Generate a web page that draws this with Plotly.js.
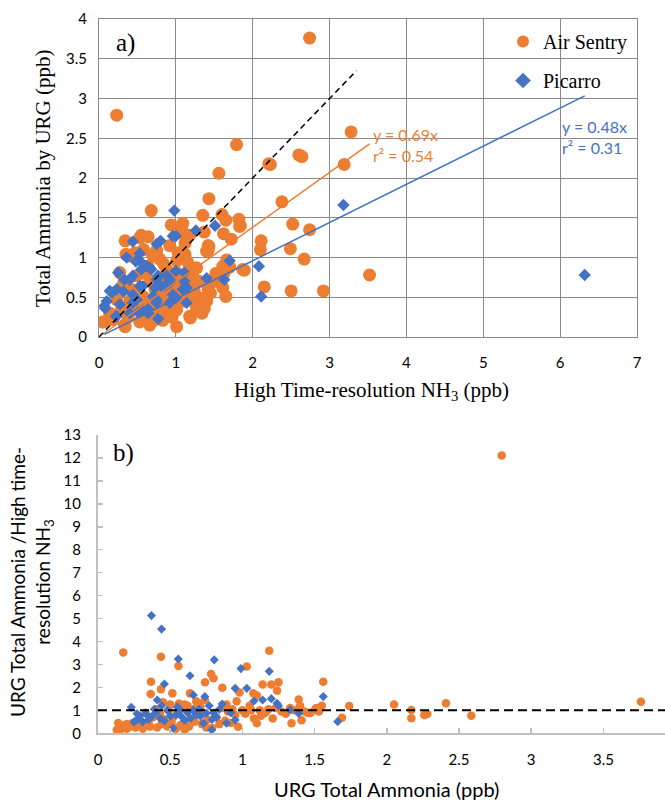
<!DOCTYPE html>
<html>
<head>
<meta charset="utf-8">
<script src="https://cdn.plot.ly/plotly-3.0.1.min.js"></script>
<style>
  html, body { margin: 0; padding: 0; background: #ffffff; }
  #chart { width: 665px; height: 800px; }
</style>
</head>
<body>
<div id="chart"></div>
<script>
// ---- Panel a: URG total ammonia vs. high time-resolution NH3 (ppb), pairs [NH3, URG] ----
const airSentryA = [
  [0.23,2.79],[2.74,3.76],[1.79,2.42],[1.56,2.06],[2.21,2.18],[2.23,2.17],[2.60,2.29],[2.64,2.27],
  [3.28,2.58],[3.19,2.17],[3.52,0.78],[2.38,1.70],[2.52,1.42],[2.49,1.11],[2.67,0.98],[2.74,1.35],
  [2.11,1.21],[2.10,1.10],[2.15,0.63],[2.50,0.58],[2.92,0.58],[1.89,0.84],[1.70,0.88],[1.66,0.97],
  [1.83,1.39],[1.43,1.74],[1.82,1.48],[1.84,1.40],
  [0.68,1.59],[1.35,1.53],[1.60,1.54],[1.65,1.47],[0.94,1.41],[1.09,1.43],[1.08,1.34],[1.37,1.32],
  [1.18,1.28],[1.62,1.30],[1.72,1.23],[1.42,1.15],[1.42,1.09],[0.34,1.21],[0.55,1.28],[0.64,1.26],
  [0.40,1.02],[0.92,1.15],[1.03,1.06],[1.12,1.04],[1.01,0.96],[1.18,0.89],[1.22,0.77],[1.27,0.87],
  [1.61,0.89],[1.63,0.81],[1.87,0.85],[1.61,0.62],[1.65,0.51],[1.42,0.60],[1.37,0.36],[1.18,0.26],
  [1.01,0.13],[0.66,0.15],[0.53,0.19],[0.34,0.13],[0.06,0.19],[0.29,0.34],[0.45,0.38],[0.62,0.43],
  [0.81,0.51],[0.92,0.55],[1.05,0.60],[1.18,0.53],[1.31,0.49],[1.18,0.64],[0.96,0.72],[0.81,0.70],
  [0.73,0.60],[0.57,0.51],[0.42,0.60],[0.32,0.68],[0.49,0.77],[0.64,0.89],[0.79,0.98],[0.88,0.85],
  [1.01,0.81],[1.11,0.72],[0.70,0.30],[0.88,0.30],[1.01,0.34],[1.27,0.34],[1.40,0.45],[0.23,0.47],
  [0.14,0.30],[0.83,0.21],[0.60,0.26],[0.47,1.06],[0.75,1.09],[0.27,0.81],[0.58,1.10],[0.35,1.04],
  [0.53,1.25],[1.08,1.31],[1.12,1.18],[1.40,1.08],[1.43,1.14],[1.34,0.30],[1.45,0.55],[1.25,0.42],
  [0.97,0.42],[0.76,0.38],[0.52,0.33],[0.38,0.25],[0.18,0.22],[1.19,0.24],[0.33,0.15],[0.05,0.19],
  [0.67,0.70],[0.85,0.62],[1.15,0.95],[1.30,0.70],[1.50,0.70],[1.52,0.80],[0.70,0.20],[0.95,0.25],
  [1.10,0.45],[0.60,0.80],[0.72,0.48],[0.90,0.40],[1.06,0.50],[0.58,0.36],[0.48,0.55],[0.84,0.92],
  [0.98,0.64],[1.24,0.58],[0.70,1.02],[0.40,0.45]
];
const picarroA = [
  [0.98,1.59],[1.26,1.34],[1.51,1.40],[1.70,0.96],[1.63,0.72],[1.40,0.74],[2.08,0.89],[2.11,0.51],
  [3.18,1.66],[6.32,0.78],[0.44,1.20],[0.36,1.00],[0.25,0.81],[0.53,1.05],[0.80,1.21],[0.75,1.17],
  [0.96,1.27],[1.00,1.27],[1.00,0.83],[1.11,0.81],[1.14,0.62],[1.00,0.49],[0.62,0.89],[0.44,0.77],
  [0.33,0.72],[0.14,0.58],[0.10,0.45],[0.08,0.36],[0.22,0.26],[0.27,0.41],[0.44,0.43],[0.53,0.64],
  [0.68,0.85],[0.75,0.72],[0.88,0.77],[0.51,0.31],[0.64,0.35],[0.75,0.43],[0.81,0.64],[0.92,0.68],
  [0.70,0.51],[0.17,0.56],[0.23,0.60],[0.55,0.85],[0.66,0.87],[0.40,0.72],[0.32,0.57],[0.44,0.53],
  [0.57,0.64],[0.73,0.62],[0.86,0.64],[0.96,0.53],[1.09,0.60],[1.14,0.43],[0.92,0.43],[0.75,0.47],
  [0.57,0.34],[0.40,0.30],[0.23,0.26],[0.49,0.47],[0.64,0.30],[0.77,0.23],[1.11,0.70],[0.92,0.72],
  [0.77,0.77],[0.53,0.96],[0.48,0.95],[0.07,0.39]
];

// ---- Panel b: URG total ammonia (ppb) vs. URG / high time-resolution NH3, pairs [URG, ratio] ----
const airSentryB = [
  [0.175,3.52],[0.436,3.34],[0.557,2.93],[0.367,2.25],[0.365,1.71],[0.436,1.92],[0.515,1.74],[0.637,1.74],
  [0.741,2.22],[0.783,2.58],[0.80,2.40],[0.861,1.99],[1.03,2.91],[1.186,3.60],[1.14,2.13],[1.20,2.13],
  [1.25,2.22],[1.24,1.86],[1.56,2.25],[1.076,1.74],[0.98,1.78],[1.10,1.65],[2.796,12.11],[3.76,1.37],
  [1.74,1.19],[1.69,0.68],[2.05,1.26],[2.17,1.02],[2.17,0.66],[2.26,0.80],[2.28,0.84],[2.41,1.31],
  [2.585,0.77],[1.39,1.47],[1.40,1.20],[1.51,1.10],[1.33,1.10],[1.47,0.88],[1.34,0.44],[1.41,0.57],
  [1.13,0.77],[1.21,0.65],[1.08,0.65],[1.10,0.44],[0.97,0.29],[0.71,1.15],[1.27,0.95],[1.30,0.85],
  [1.45,0.90],[1.53,0.95],[1.18,1.05],[1.05,1.20],[1.00,1.00],[0.95,0.80],[0.90,0.95],[0.86,1.10],
  [0.82,0.70],[0.76,0.60],[0.70,0.90],[0.66,1.05],[0.62,1.20],[0.58,1.10],[0.55,0.90],[0.52,0.70],
  [0.49,1.00],[0.46,0.60],[0.43,0.85],[0.40,1.05],[0.38,0.70],[0.35,0.50],[0.33,0.90],[0.30,0.35],
  [0.28,0.60],[0.26,0.25],[0.24,0.45],[0.22,0.30],[0.20,0.20],[0.18,0.35],[0.16,0.25],[0.14,0.45],
  [0.13,0.15],[0.15,0.10],[0.20,0.40],[0.25,0.30],[0.31,0.20],[0.36,0.30],[0.41,0.25],[0.44,0.40],
  [0.48,0.30],[0.51,0.45],[0.54,0.20],[0.57,0.35],[0.60,0.55],[0.63,0.30],[0.67,0.50],[0.72,0.40],
  [0.75,0.25],[0.79,0.23],[0.84,0.40],[0.88,0.55],[0.92,0.45],[0.60,0.15],[0.66,0.65],[0.50,1.25],
  [0.45,1.35],[0.56,1.30],[0.60,1.25],[0.70,1.30],[0.74,1.45],[0.68,1.40],[0.89,1.25],[0.96,1.40],
  [0.93,1.05],[1.02,0.85],[1.06,1.00],[1.12,1.00],[1.16,0.90],[1.23,1.10],[1.36,1.00],[1.43,0.95],
  [1.50,1.00],[1.55,1.20]
];
const picarroB = [
  [0.37,5.13],[0.44,4.54],[0.556,3.24],[0.637,2.51],[0.805,3.20],[0.99,2.82],[1.186,2.70],[1.03,1.96],
  [0.95,1.96],[0.46,2.15],[1.56,1.60],[1.14,1.45],[1.20,1.51],[1.24,1.31],[1.25,1.20],[1.33,1.02],
  [1.39,0.87],[1.66,0.51],[0.23,1.13],[0.27,0.58],[0.31,0.50],[0.37,0.72],[0.41,1.45],[0.48,1.00],
  [0.52,0.22],[0.50,0.75],[0.58,0.72],[0.60,0.56],[0.66,1.67],[0.74,1.60],[0.71,0.74],[0.73,0.44],
  [0.75,0.88],[0.787,0.145],[0.80,0.88],[0.86,1.28],[0.89,0.44],[0.95,0.58],[0.77,1.20],[0.62,0.90],
  [0.68,0.80],[0.44,1.20],[0.40,0.90],[0.35,0.60],[0.29,0.75],[0.25,0.50],[0.33,0.85],[0.46,0.55],
  [0.54,0.80],[0.57,1.00],[0.64,0.65],[0.70,1.05],[0.82,0.70],[0.84,1.05],[0.92,0.90],[1.08,1.41],
  [0.43,0.65],[0.39,1.05],[0.55,1.15],[0.66,1.00],[0.79,0.60],[0.27,0.85]
];

// Zero-intercept regression results shown on panel a
const slopeAirSentry = 0.69, r2AirSentry = 0.54;
const slopePicarro = 0.48, r2Picarro = 0.31;
// 1:1 reference line extent (ppb)
const oneToOne = [0, 3.35];
// Ratio of unity on panel b
const unityRatio = 1;

const ORANGE = '#ED7D31';
const BLUE = '#4472C4';
const SERIF = 'Liberation Serif, Times New Roman, serif';
const SANS = 'Lato, Noto Sans, sans-serif';

const col = (arr, i) => arr.map(p => p[i]);
function fitLine(pairs, slope) {
  const xs = col(pairs, 0);
  const lo = Math.min(...xs), hi = Math.max(...xs);
  return { x: [lo, hi], y: [slope * lo, slope * hi] };
}
const fitAS = fitLine(airSentryA, slopeAirSentry);
const fitPI = fitLine(picarroA, slopePicarro);

const W = 665, H = 800;
const traces = [
  { type: 'scatter', mode: 'markers', name: 'Air Sentry', legendgroup: 'as',
    x: col(airSentryA, 0), y: col(airSentryA, 1), xaxis: 'x', yaxis: 'y',
    marker: { symbol: 'circle', size: 13, color: ORANGE } },
  { type: 'scatter', mode: 'markers', name: 'Picarro', legendgroup: 'pi',
    x: col(picarroA, 0), y: col(picarroA, 1), xaxis: 'x', yaxis: 'y',
    marker: { symbol: 'diamond', size: 9.5, color: BLUE } },
  { type: 'scatter', mode: 'lines', showlegend: false, hoverinfo: 'skip',
    x: fitAS.x, y: fitAS.y, xaxis: 'x', yaxis: 'y', line: { color: ORANGE, width: 1.5 } },
  { type: 'scatter', mode: 'lines', showlegend: false, hoverinfo: 'skip',
    x: fitPI.x, y: fitPI.y, xaxis: 'x', yaxis: 'y', line: { color: BLUE, width: 1.5 } },
  { type: 'scatter', mode: 'lines', showlegend: false, hoverinfo: 'skip',
    x: oneToOne, y: oneToOne, xaxis: 'x', yaxis: 'y',
    line: { color: '#000000', width: 1.5, dash: '6px,4px' } },
  { type: 'scatter', mode: 'markers', showlegend: false, name: 'Air Sentry',
    x: col(airSentryB, 0), y: col(airSentryB, 1), xaxis: 'x2', yaxis: 'y2',
    marker: { symbol: 'circle', size: 8.5, color: ORANGE } },
  { type: 'scatter', mode: 'markers', showlegend: false, name: 'Picarro',
    x: col(picarroB, 0), y: col(picarroB, 1), xaxis: 'x2', yaxis: 'y2',
    marker: { symbol: 'diamond', size: 7, color: BLUE } }
];

const gridGray = '#8a8a8a';
const axisGray = '#c0c0c0';
const tickFont = { family: SANS, size: 15, color: '#000000' };

function label(text, px, py, font, angle) {
  return { text: text, xref: 'paper', yref: 'paper', x: px / W, y: 1 - py / H,
    xanchor: 'center', yanchor: 'middle', align: 'center', showarrow: false,
    textangle: angle || 0, font: font };
}

const layout = {
  width: W, height: H,
  margin: { l: 0, r: 0, t: 0, b: 0, autoexpand: false },
  paper_bgcolor: '#ffffff', plot_bgcolor: '#ffffff',
  showlegend: true,
  legend: {
    x: 503 / W, y: 1 - 22 / H, xanchor: 'left', yanchor: 'top',
    bgcolor: 'rgba(0,0,0,0)', font: { family: SERIF, size: 20, color: '#000000' },
    tracegroupgap: 10, itemsizing: 'constant', itemwidth: 30
  },
  xaxis: {
    domain: [99 / W, 637 / W], range: [0, 7], dtick: 1, tick0: 0,
    showgrid: true, gridcolor: gridGray, gridwidth: 1,
    showline: true, linecolor: gridGray, linewidth: 1, mirror: true,
    zeroline: false, ticks: '', tickfont: tickFont, ticklabelstandoff: 12, fixedrange: true
  },
  yaxis: {
    domain: [1 - 337 / H, 1 - 19 / H], range: [0, 4], dtick: 0.5, tick0: 0,
    showgrid: true, gridcolor: gridGray, gridwidth: 1,
    showline: true, linecolor: gridGray, linewidth: 1, mirror: true,
    zeroline: false, ticks: '', tickfont: tickFont, ticklabelstandoff: 8, fixedrange: true
  },
  xaxis2: {
    domain: [98 / W, 1], range: [0, (W - 98) / 144.4], dtick: 0.5, tick0: 0, anchor: 'y2',
    showgrid: false, showline: true, linecolor: axisGray, linewidth: 2,
    zeroline: false, ticks: 'inside', ticklen: 5, tickwidth: 1.5, tickcolor: axisGray,
    tickfont: tickFont, ticklabelstandoff: 12, fixedrange: true
  },
  yaxis2: {
    domain: [1 - 733.3 / H, 1 - 435 / H], range: [0, 13], dtick: 1, tick0: 0, anchor: 'x2',
    showgrid: false, showline: true, linecolor: axisGray, linewidth: 2,
    zeroline: false, ticks: 'inside', ticklen: 5, tickwidth: 1.5, tickcolor: axisGray,
    tickfont: tickFont, ticklabelstandoff: 12, fixedrange: true
  },
  shapes: [
    { type: 'line', xref: 'x2 domain', x0: 0, x1: 1, yref: 'y2', y0: unityRatio, y1: unityRatio,
      line: { color: '#000000', width: 2, dash: '9px,5px' } }
  ],
  annotations: [
    { text: 'a)', xref: 'x', yref: 'y', x: 0.34, y: 3.70, xanchor: 'center', yanchor: 'middle',
      showarrow: false, font: { family: SERIF, size: 25, color: '#000000' } },
    { text: 'b)', xref: 'x2', yref: 'y2', x: 0.18, y: 12.23, xanchor: 'center', yanchor: 'middle',
      showarrow: false, font: { family: SERIF, size: 25, color: '#000000' } },
    { text: 'y = ' + slopeAirSentry.toFixed(2) + 'x<br>r² = ' + r2AirSentry.toFixed(2),
      xref: 'x', yref: 'y', x: 3.545, y: 2.415, xanchor: 'left', yanchor: 'middle', align: 'left',
      showarrow: false, font: { family: SANS, size: 16, color: ORANGE } },
    { text: 'y = ' + slopePicarro.toFixed(2) + 'x<br>r² = ' + r2Picarro.toFixed(2),
      xref: 'x', yref: 'y', x: 6.0, y: 2.516, xanchor: 'left', yanchor: 'middle', align: 'left',
      showarrow: false, font: { family: SANS, size: 16, color: BLUE } },
    // axis titles
    label('High Time-resolution NH<sub>3</sub> (ppb)', 371, 391, { family: SERIF, size: 21, color: '#000000' }),
    label('Total Ammonia by URG (ppb)', 43, 178, { family: SERIF, size: 21, color: '#000000' }, -90),
    label('URG Total Ammonia (ppb)', 386, 789, { family: SANS, size: 20, color: '#000000' }),
    label('URG Total Ammonia /High time-<br>resolution NH<sub>3</sub>', 31, 582,
      { family: SANS, size: 19, color: '#000000' }, -90)
  ]
};

Plotly.newPlot('chart', traces, layout, { displayModeBar: false, staticPlot: true });
</script>
</body>
</html>
